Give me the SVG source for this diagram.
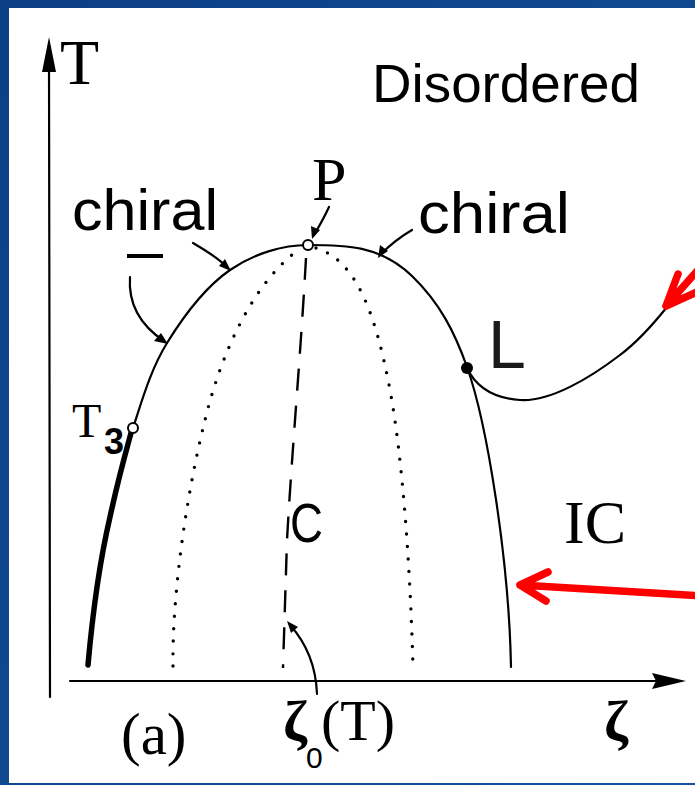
<svg xmlns="http://www.w3.org/2000/svg" width="695" height="785" viewBox="0 0 695 785">
<defs>
<style>
.ln{fill:none;stroke:#000;stroke-width:2.2;stroke-linecap:round;stroke-linejoin:round}
.dot{fill:none;stroke:#000;stroke-width:3.4;stroke-linecap:round;stroke-dasharray:0 12.5}
.dash{fill:none;stroke:#000;stroke-width:2.4;stroke-dasharray:22 15}
.red{fill:none;stroke:#ff0000;stroke-width:7.5;stroke-linecap:round;stroke-linejoin:round}
.sans{font-family:"Liberation Sans",Arial,sans-serif;fill:#000}
.serif{font-family:"Liberation Serif","Times New Roman",serif;fill:#000}
</style>
<linearGradient id="bg" x1="0" y1="0" x2="1" y2="1">
<stop offset="0" stop-color="#0b3f86"/>
<stop offset="1" stop-color="#16539a"/>
</linearGradient>
</defs>
<rect x="0" y="0" width="695" height="785" fill="url(#bg)"/>
<rect x="9" y="8" width="686" height="775" fill="#ffffff"/>

<g id="axes">
<line x1="49" y1="60" x2="50" y2="697" class="ln"/>
<polygon points="49,37 42,72 56,72" fill="#000"/>
<line x1="70" y1="681" x2="662" y2="681" class="ln"/>
<polygon points="686,681 652,673 656,681 652,689" fill="#000"/>
</g>

<g id="connectors">
<path id="phase-boundary" class="ln" d="M133,428 C142.5,399 150.8,369.3 167,343 C183.2,316.7 206.5,286.3 230,270 C253.5,253.7 283,245 308,245 C345,245 380,245 412,276 C440,303 455,333 467,367 C487,423 509,560 511,667"/>
<path id="thick-branch" d="M88,665 C92,620 100,560 110,517 C118,480 125,455 131,433" fill="none" stroke="#000" stroke-width="5.5" stroke-linecap="round"/>
<path id="lifshitz-line" class="ln" d="M467,368 C475,385 490,398 520,400 C550,402 590,378 620,355 C640,340 655,322 667,307"/>
<path id="dotted-left" class="dot" d="M173,666 C172,600 185,500 205,420 C222,350 255,280 301,248"/>
<path id="dotted-right" class="dot" d="M316,248 C355,260 375,310 390,390 C402,455 410,560 413,667"/>
<path id="dashed-zeta0" class="dash" d="M306,258 C301,350 292,450 287,540 L283,668"/>
<path d="M130,277 C128,305 140,325 164,341" class="ln"/>
<polygon points="168,344 154,341 161,333" fill="#000"/>
<path d="M193,243 C205,250 218,258 227,267" class="ln"/>
<polygon points="231,271 219,266 225,259" fill="#000"/>
<path d="M329,207 C323,220 318,228 314,235" class="ln"/>
<polygon points="312,239 311,226 320,230" fill="#000"/>
<path d="M412,230 C400,237 390,245 381,254" class="ln"/>
<polygon points="378,258 380,245 388,251" fill="#000"/>
<path d="M317,694 C316,668 308,645 290,625" class="ln"/>
<polygon points="287,621 298,627 291,633" fill="#000"/>
</g>

<g id="red-arrows">
<path class="red" d="M705,262 L666,306 M678,274 L666,306 L699,291"/>
<path class="red" d="M705,596 L520,585 M548,572 L520,585 L546,601"/>
</g>

<g id="points">
<circle id="P" cx="308" cy="245" r="5" fill="#fff" stroke="#000" stroke-width="2"/>
<circle id="T3" cx="133" cy="428" r="5" fill="#fff" stroke="#000" stroke-width="2"/>
<circle id="L" cx="467" cy="368" r="6" fill="#000"/>
</g>

<g id="labels">
<text x="60" y="84" class="serif" font-size="64">T</text>
<text x="372" y="102" class="sans" font-size="54" textLength="268" lengthAdjust="spacingAndGlyphs">Disordered</text>
<text x="72" y="230" class="sans" font-size="58" textLength="146" lengthAdjust="spacingAndGlyphs">chiral</text>
<line x1="127" y1="256" x2="163" y2="256" stroke="#000" stroke-width="4"/>
<text x="418" y="233" class="sans" font-size="58" textLength="152" lengthAdjust="spacingAndGlyphs">chiral</text>
<text x="312" y="200" class="serif" font-size="62">P</text>
<text x="72" y="437" class="serif" font-size="48">T</text>
<text x="104" y="454" class="sans" font-size="36" font-weight="bold">3</text>
<text x="488" y="368" class="sans" font-size="68" style="fill:#1a1a1a">L</text>
<text x="290" y="542" class="sans" font-size="56" textLength="33" lengthAdjust="spacingAndGlyphs">C</text>
<text x="564" y="543" class="serif" font-size="62" textLength="62" lengthAdjust="spacingAndGlyphs">IC</text>
<text x="121" y="754" class="serif" font-size="59">(a)</text>
<text x="283" y="740" class="serif" font-size="58" font-weight="bold">ζ</text>
<text x="306" y="768" class="sans" font-size="30">0</text>
<text x="321" y="740" class="serif" font-size="58">(T)</text>
<text x="604" y="740" class="serif" font-size="58" font-weight="bold">ζ</text>
</g>
</svg>
